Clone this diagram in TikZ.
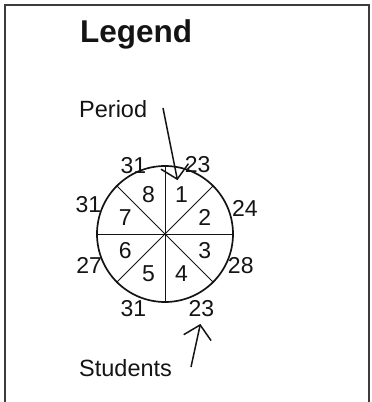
\documentclass[tikz,border=0pt]{standalone}
\usepackage{fontspec}
\setmainfont{Liberation Sans}
\usepackage{tikz}
\usetikzlibrary{arrows.meta, positioning, calc}
\definecolor{legendink}{RGB}{20, 20, 20}
\definecolor{legendframe}{RGB}{60, 60, 60}
\tikzset{
  frame/.style={draw=legendframe, line width=1.4pt},
  wheel/.style={circle, draw=legendink, line width=1.7pt, minimum size=136pt, inner sep=0pt},
  spoke/.style={draw=legendink, line width=0.9pt},
  numlabel/.style={inner sep=0pt, text=legendink, font=\fontsize{23}{26}\selectfont},
  caption/.style={anchor=base west, inner sep=0pt, text=legendink, font=\fontsize{23.5}{26}\selectfont},
  pointer/.style={-{Straight Barb[length=13pt, width=28pt]}, line width=1.5pt, color=legendink},
}

\begin{document}
\begin{tikzpicture}[x=1pt, y=1pt]
        \useasboundingbox (0,0) rectangle (372,402);
        % open frame
        \draw[frame] (5,0) -- (5,397) -- (369,397) -- (369,0);

        \node[caption, font=\fontsize{31.5}{34}\selectfont\bfseries] (legend) at (80,359) {Legend};
        \node[caption] (period) at (79,284) {Period};
        \node[caption] (students) at (79,25) {Students};

        \node[wheel] (clock) at (165,168) {};
        \foreach \a/\b in {0/180, 45/225, 90/270, 135/315}
          \draw[spoke] (clock.\a) -- (clock.\b);

        % period numbers inside the sectors
        \foreach \n/\m in {1/67.5, 2/22.5, 3/-22.5, 4/-67.5, 5/-112.5, 6/-157.5, 7/157.5, 8/112.5}
          \node[numlabel] (s\n) at ($(clock.center)+(\m:43)$) {\n};

        % student counts round the rim
        \foreach \n/\m/\v/\r in {1/65/23/77, 2/18/24/84, 3/-22.5/28/82, 4/-64/23/83,
                                 5/-113/31/81, 6/-157.5/27/82, 7/159/31/82, 8/115/31/75}
          \node[numlabel] (o\n) at ($(clock.center)+(\m:\r)$) {\v};

        \coordinate (periodtail) at (163,294);
        \coordinate (studtail) at (191,35);
        \draw[pointer] (periodtail) -- ($(s1.north)+(-4,6)$);
        \draw[pointer] (studtail) -- ($(o4.south)+(-1,-7)$);
\end{tikzpicture}
\end{document}
